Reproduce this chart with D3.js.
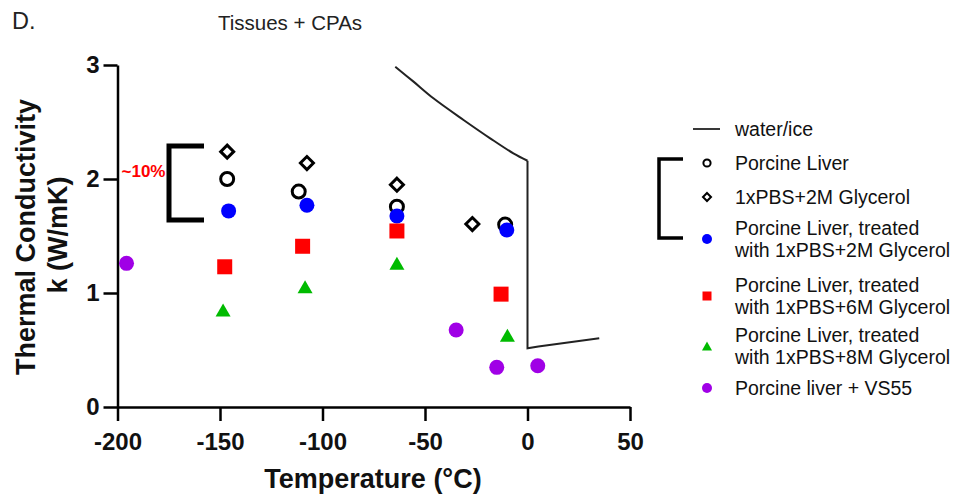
<!DOCTYPE html>
<html>
<head>
<meta charset="utf-8">
<script src="https://cdn.jsdelivr.net/npm/d3@7"></script>
<style>
  html, body { margin: 0; padding: 0; background: #fff; }
  svg { display: block; font-family: "Liberation Sans", Arial, sans-serif; }
</style>
</head>
<body>
<svg id="chart" width="959" height="497"></svg>
<script>
// ---------- DATA ----------
const xTicks = [-200, -150, -100, -50, 0, 50];
const yTicks = [0, 1, 2, 3];

const waterTemp = [-64.5, -55.6, -45.9, -31.2, -18.2, -6.9, 0, 0, 5.3, 35];
const waterK    = [2.985, 2.854, 2.708, 2.518, 2.357, 2.225, 2.16, 0.515, 0.53, 0.603];

const liverTemp = [-146.5, -111.6, -63.7, -10.9];
const liverK    = [2.00, 1.89, 1.757, 1.60];

const pbs2Temp = [-146.5, -107.6, -63.7, -26.9];
const pbs2K    = [2.24, 2.14, 1.95, 1.605];

const tr2Temp = [-145.8, -107.6, -63.7, -10.1];
const tr2K    = [1.72, 1.77, 1.675, 1.553];

const tr6Temp = [-147.7, -109.7, -63.7, -12.9];
const tr6K    = [1.23, 1.41, 1.544, 0.99];

const tr8Temp = [-148.5, -108.5, -63.7, -9.8];
const tr8K    = [0.85, 1.055, 1.26, 0.63];

const vsTemp = [-195.6, -34.8, -15.0, 5.0];
const vsK    = [1.26, 0.675, 0.348, 0.362];

const legendLabels = [
  ["water/ice"],
  ["Porcine Liver"],
  ["1xPBS+2M Glycerol"],
  ["Porcine Liver, treated", "with 1xPBS+2M Glycerol"],
  ["Porcine Liver, treated", "with 1xPBS+6M Glycerol"],
  ["Porcine Liver, treated", "with 1xPBS+8M Glycerol"],
  ["Porcine liver + VS55"]
];

// ---------- SETUP ----------
const svg = d3.select("#chart");
const x = d3.scaleLinear().domain([-200, 50]).range([117.5, 630]);
const y = d3.scaleLinear().domain([0, 3]).range([407, 65]);

const BLUE = "#0000ff", RED = "#ff0000", GREEN = "#00bb00", PURPLE = "#a000e6";

// header texts
svg.append("text").attr("x", 12).attr("y", 29).attr("font-size", 23.5).attr("fill", "#222").text("D.");
svg.append("text").attr("x", 218).attr("y", 30).attr("font-size", 20.5).attr("fill", "#222").text("Tissues + CPAs");

// axes
const xAxis = svg.append("g").attr("transform", `translate(0,${y(0)})`)
  .call(d3.axisBottom(x).tickValues(xTicks).tickSize(14).tickSizeOuter(0).tickPadding(12).tickFormat(d3.format("d")));
const yAxis = svg.append("g").attr("transform", `translate(${x(-200)},0)`)
  .call(d3.axisLeft(y).tickValues(yTicks).tickSize(14).tickSizeOuter(0).tickPadding(4).tickFormat(d3.format("d")));
[xAxis, yAxis].forEach(g => {
  g.selectAll("path, line").attr("stroke", "#000").attr("stroke-width", 2.5);
  g.selectAll("text").attr("font-size", 24).attr("font-weight", "bold").attr("fill", "#111")
    .attr("font-family", "'Liberation Sans', Arial, sans-serif");
});
xAxis.selectAll("text").text(d => d < 0 ? "-" + Math.abs(d) : d);

// axis titles
svg.append("text").attr("x", 373).attr("y", 488).attr("text-anchor", "middle")
  .attr("font-size", 27).attr("font-weight", "bold").attr("fill", "#111").text("Temperature (°C)");
svg.append("text").attr("transform", "translate(35,237) rotate(-90)").attr("text-anchor", "middle")
  .attr("font-size", 27).attr("font-weight", "bold").attr("fill", "#111").text("Thermal Conductivity");
svg.append("text").attr("transform", "translate(67,235) rotate(-90)").attr("text-anchor", "middle")
  .attr("font-size", 27).attr("font-weight", "bold").attr("fill", "#111").text("k (W/mK)");

// water/ice line: smooth ice branch, then straight melt drop and water branch
const waterData = waterTemp.map((t, i) => [t, waterK[i]]);
const iceBranch = waterData.slice(0, 7);
const meltBranch = waterData.slice(6);
svg.append("path").datum(iceBranch)
  .attr("d", d3.line().x(d => x(d[0])).y(d => y(d[1])).curve(d3.curveCatmullRom))
  .attr("fill", "none").attr("stroke", "#222").attr("stroke-width", 2);
svg.append("path").datum(meltBranch)
  .attr("d", d3.line().x(d => x(d[0])).y(d => y(d[1])))
  .attr("fill", "none").attr("stroke", "#222").attr("stroke-width", 2);

// marker helpers
function drawSeries(temps, ks, drawFn) {
  temps.forEach((t, i) => drawFn(svg, x(t), y(ks[i])));
}
const openCircle = (r, sw) => (g, cx, cy) => g.append("circle").attr("cx", cx).attr("cy", cy).attr("r", r)
  .attr("fill", "none").attr("stroke", "#000").attr("stroke-width", sw);
const openDiamond = (h, sw) => (g, cx, cy) => g.append("path")
  .attr("d", `M${cx},${cy - h}L${cx + h},${cy}L${cx},${cy + h}L${cx - h},${cy}Z`)
  .attr("fill", "none").attr("stroke", "#000").attr("stroke-width", sw).attr("stroke-linejoin", "miter");
const dot = (r, c) => (g, cx, cy) => g.append("circle").attr("cx", cx).attr("cy", cy).attr("r", r).attr("fill", c);
const square = (s, c) => (g, cx, cy) => g.append("rect").attr("x", cx - s / 2).attr("y", cy - s / 2)
  .attr("width", s).attr("height", s).attr("fill", c);
const tri = (w, hgt, c) => (g, cx, cy) => g.append("path")
  .attr("d", `M${cx},${cy - hgt / 2}L${cx + w / 2},${cy + hgt / 2}L${cx - w / 2},${cy + hgt / 2}Z`).attr("fill", c);

drawSeries(pbs2Temp, pbs2K, openDiamond(6.5, 3));
drawSeries(liverTemp, liverK, openCircle(6.5, 3));
drawSeries(tr2Temp, tr2K, dot(7.5, BLUE));
drawSeries(tr6Temp, tr6K, square(15, RED));
drawSeries(tr8Temp, tr8K, tri(15, 13, GREEN));
drawSeries(vsTemp, vsK, dot(7.5, PURPLE));

// left bracket + ~10%
svg.append("path").attr("d", "M204,146H169V220H204")
  .attr("fill", "none").attr("stroke", "#000").attr("stroke-width", 5);
svg.append("text").attr("x", 121.5).attr("y", 177).attr("font-size", 17).attr("font-weight", "bold")
  .attr("fill", RED).text("~10%");

// legend
const legendY = [129, 163, 197, 239, 296, 346, 388];
const legendMarkers = [
  (g, cx, cy) => g.append("line").attr("x1", cx - 14).attr("x2", cx + 13).attr("y1", cy).attr("y2", cy)
    .attr("stroke", "#222").attr("stroke-width", 1.8),
  openCircle(3.6, 2),
  openDiamond(4, 2),
  dot(5, BLUE),
  square(9, RED),
  tri(10, 9, GREEN),
  dot(5, PURPLE)
];
legendLabels.forEach((lines, i) => {
  const cy = legendY[i];
  legendMarkers[i](svg, 707, cy);
  const lh = 22;
  lines.forEach((ln, j) => {
    const ty = cy + (j - (lines.length - 1) / 2) * lh;
    svg.append("text").attr("x", 735).attr("y", ty).attr("dy", "0.36em")
      .attr("font-size", 19.5).attr("fill", "#111").text(ln);
  });
});
svg.append("path").attr("d", "M683,159H659V238H683")
  .attr("fill", "none").attr("stroke", "#000").attr("stroke-width", 3.5);
</script>
</body>
</html>
